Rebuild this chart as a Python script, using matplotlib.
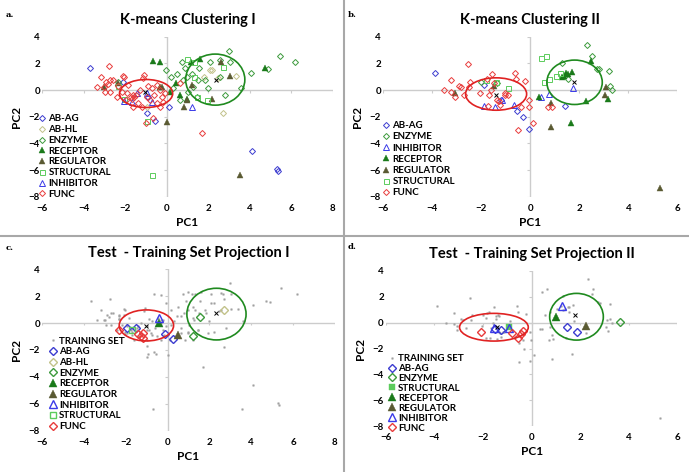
import matplotlib
matplotlib.use("Agg")
import matplotlib.pyplot as plt
from matplotlib.patches import Ellipse
from matplotlib.lines import Line2D

plt.rcParams['font.family'] = ['Lato', 'DejaVu Sans']
plt.rcParams['font.weight'] = 'bold'

# --- panel a: K-means clustering I (x, y)
A_ABAG = [(-3.68, 1.63), (-0.96, -1.7), (-0.56, -2.3), (0.13, -1.25), (4.1, -4.6),
          (5.3, -5.9), (5.35, -6.1), (-2.1, 0.6), (-0.9, -0.5)]
A_ABHL = [(2.08, 1.5), (2.2, 1.5), (1.79, 1.0), (3.36, 1.05), (2.69, -1.75), (2.48, 0.88),
          (-0.96, -1.25)]
A_ENZYME = [(-0.05, 1.5), (0.19, 1.0), (0.48, 1.2), (0.72, 2.13), (0.88, 1.63), (0.96, 0.95),
            (0.8, 0.75), (1.2, 1.2), (1.25, 0.2), (1.57, 1.63), (1.52, 0.75), (2.08, 2.13),
            (2.0, 0.13), (1.84, 0.75), (2.56, 2.25), (2.56, 0.95), (3.04, 2.13), (3.0, 2.95),
            (2.8, -0.38), (3.6, 0.13), (4.08, 1.3), (4.88, 1.55), (5.44, 2.58), (6.2, 2.13),
            (1.44, -0.5), (0.64, -0.75), (-2.32, 0.63), (0.32, 0.13), (1.04, -0.13)]
A_RECEPTOR = [(-0.64, 2.18), (-0.32, 2.1), (0.43, 0.5), (1.18, 2.13), (1.6, 2.3), (4.72, 1.63),
              (0.64, -0.38), (0.16, -0.13), (-0.32, 0.2), (0.96, -0.63)]
A_REGULATOR = [(-3.0, 0.2), (-2.32, 0.5), (0.0, -2.38), (0.85, -1.25), (1.2, 0.38), (2.2, -0.7),
               (2.64, 2.13), (3.04, 1.05), (3.55, -6.38), (-0.24, 0.25), (0.96, -0.75)]
A_STRUCTURAL = [(0.99, 2.3), (1.33, 2.13), (2.69, 1.75), (1.92, -0.75), (-0.93, -2.3),
                (-0.7, -6.38), (-2.32, 0.3), (-2.05, -0.68), (1.33, 1.0), (1.44, -0.55)]
A_INHIBITOR = [(-2.05, -0.8), (-1.68, -0.88), (-0.96, -0.25), (1.2, -1.25), (-0.72, -0.88),
               (-1.41, -0.25)]
A_FUNC = [(-2.77, 1.8), (-3.17, 0.95), (-3.36, 0.2), (-3.04, 0.2), (-2.9, 0.63), (-2.8, 0.45),
          (-2.72, 0.75), (-2.6, 0.75), (-2.96, -0.13), (-2.72, -0.13), (-2.08, 1.05),
          (-2.05, 0.95), (-2.32, 0.3), (-1.84, 0.38), (-1.92, -0.25), (-1.73, -0.5),
          (-1.63, -0.38), (-1.57, -0.55), (-1.68, -0.63), (-1.47, -0.38), (-1.09, 1.12),
          (-1.12, 0.88), (-1.28, 0.0), (-0.88, 0.3), (-0.72, 0.13), (-0.96, -0.5), (-0.8, -0.75),
          (-0.61, -0.38), (-0.48, -1.0), (-0.32, -1.25), (-0.16, -0.88), (-0.08, -0.25),
          (-0.32, 0.0), (-0.45, 0.38), (-1.36, -1.0), (-1.6, -1.25), (-0.64, -2.12), (-1.0, -2.5),
          (1.71, -3.25), (0.64, 0.5), (-0.24, -0.5), (-1.2, -1.25), (-2.4, -0.5), (-2.16, -0.13),
          (-1.95, -0.75)]
A_CENTROIDS = [(-1.02, -0.13), (2.37, 0.75)]

# --- panel b: K-means clustering II
B_ABAG = [(-3.89, 1.3), (-1.89, 0.38), (-1.18, -0.75), (-0.53, -1.55), (-0.3, -2.05),
          (-0.05, -2.95), (1.4, -1.2)]
B_ENZYME = [(2.33, 3.38), (2.53, 2.58), (2.8, 1.55), (3.21, 1.43), (3.24, 0.3), (3.32, 0.0),
            (1.28, 2.05), (1.55, 0.8), (-1.99, 0.63), (-1.35, 0.55), (2.73, 1.6)]
B_INHIBITOR = [(-1.89, -1.2), (-1.44, -1.25), (-0.67, -1.08), (0.44, -0.5), (0.76, -0.3),
               (1.76, 0.13), (-1.14, -0.75)]
B_RECEPTOR = [(2.5, 2.18), (1.71, 1.38), (1.48, 1.25), (1.37, 1.08), (1.31, 0.95),
              (2.26, -0.83), (3.16, -0.68), (1.65, -2.45), (0.35, -0.5), (1.55, 1.2)]
B_REGULATOR = [(-3.05, -0.25), (0.86, -2.8), (0.86, -0.95), (3.07, -0.33), (3.1, 0.2),
               (5.29, -7.33), (-1.48, 0.3)]
B_STRUCTURAL = [(0.45, 2.38), (0.63, 2.58), (0.56, 0.63), (0.76, 0.8), (1.06, 1.05),
                (1.2, 1.3), (-1.82, 0.75), (-1.39, 0.63), (-0.9, 0.13)]
B_FUNC = [(-2.53, 1.93), (-2.46, 0.63), (-3.21, 0.75), (-3.51, 0.0), (-3.21, -0.13),
          (-3.05, -0.55), (-2.91, 0.3), (-2.82, 0.2), (-2.68, -0.38), (-2.48, 0.2),
          (-2.03, -0.25), (-1.69, -0.38), (-1.55, 1.2), (-1.76, 0.8), (-1.48, 0.55),
          (-1.59, 0.0), (-1.35, -0.75), (-1.28, -0.8), (-1.71, -1.2), (-1.25, -1.13),
          (-1.01, -0.2), (-0.91, -0.38), (-0.6, 1.3), (-0.57, 0.8), (-0.22, 0.68),
          (-0.05, -0.75), (-0.03, -1.3), (-0.37, -1.3), (-0.5, -3.0), (0.12, -2.5),
          (0.72, -1.3), (0.9, -1.25), (-1.01, -0.38)]
B_CENTROIDS = [(-1.39, -0.38), (1.78, 0.6)]

# --- panel c: test set projected on clustering I
C_ABAG = [(-1.94, -0.35), (-1.5, -0.35), (-0.11, -0.84), (0.24, -1.21)]
C_ABHL = [(2.72, 0.97)]
C_ENZYME = [(1.53, 0.47), (1.21, -0.97)]
C_RECEPTOR = [(-0.4, -0.03)]
C_REGULATOR = [(0.49, -0.89)]
C_INHIBITOR = [(-0.4, 0.4)]
C_STRUCTURAL = [(-1.7, -0.5)]
C_FUNC = [(-2.34, -0.52), (-1.43, -0.79), (-1.27, -0.97), (-1.15, -1.09), (-1.18, -0.72)]
C_CENTROIDS = [(-1.03, -0.22), (2.31, 0.72)]

# --- panel d: test set projected on clustering II
D_ABAG = [(-1.51, -0.46), (-1.25, -0.59), (1.44, -0.34), (1.88, -0.7)]
D_ENZYME = [(3.64, 0.05)]
D_STRUCTURAL = [(-0.91, -0.31)]
D_RECEPTOR = [(1.02, 0.46)]
D_REGULATOR = [(2.25, -0.26)]
D_INHIBITOR = [(1.26, 1.3), (-0.92, -0.4), (-1.55, -0.4)]
D_FUNC = [(-2.1, -0.72), (-0.82, -0.83), (-0.55, -1.21), (-0.45, -0.9), (-0.36, -0.65)]
D_CENTROIDS = [(-1.42, -0.31), (1.79, 0.62)]

# --- ellipses: (cx, cy, width, height)
ELL_A = [(-0.99, -0.25, 2.56, 2.1), (2.34, 0.79, 2.85, 3.83)]
ELL_B = [(-1.39, -0.29, 2.49, 2.43), (1.81, 0.59, 2.26, 3.33)]
ELL_C = [(-1.01, -0.18, 2.6, 2.3), (2.34, 0.66, 2.83, 3.83)]
ELL_D = [(-1.55, -0.35, 2.83, 2.14), (1.85, 0.46, 2.21, 3.61)]

TRAIN_C = A_ABAG + A_ABHL + A_ENZYME + A_RECEPTOR + A_REGULATOR + A_STRUCTURAL + A_INHIBITOR + A_FUNC
TRAIN_D = B_ABAG + B_ENZYME + B_INHIBITOR + B_RECEPTOR + B_REGULATOR + B_STRUCTURAL + B_FUNC

# --- styles: marker, colour, filled
STYLE = {
    'TRAINING SET': ('s', '#a0a0a0', True),
    'AB-AG': ('D', '#3c3cd0', False),
    'AB-HL': ('D', '#c2c28a', False),
    'ENZYME': ('D', '#3c9a3c', False),
    'RECEPTOR': ('^', '#1a7a1a', True),
    'REGULATOR': ('^', '#5a5a32', True),
    'STRUCTURAL': ('s', '#5ccc5c', False),
    'INHIBITOR': ('^', '#3a3ae8', False),
    'FUNC': ('D', '#e83c3c', False),
}


def scatter(ax, pts, name, size=3.6, mew=0.7, filled=None):
    m, c, f = STYLE[name]
    if filled is not None:
        f = filled
    xs = [p[0] for p in pts]
    ys = [p[1] for p in pts]
    ms = size + 0.6 if m == '^' else size
    if m == 'D':
        ms = size * 0.85
    if name == 'TRAINING SET':
        ms = 1.1
    ax.plot(xs, ys, linestyle='none', marker=m, markersize=ms,
            markerfacecolor=c if f else 'none', markeredgecolor=c,
            markeredgewidth=mew if not f else 0.3, label=name)


def setup(ax, title, xmax, ells, cents):
    ax.set_xlim(-6, xmax)
    ax.set_ylim(-8, 4)
    xt = list(range(-6, xmax + 1, 2))
    yt = list(range(-8, 5, 2))
    ax.set_xticks(xt)
    ax.set_yticks(yt)
    ax.tick_params(length=0, labelsize=7)
    ax.tick_params(axis='x', pad=5)
    ax.tick_params(axis='y', pad=1.5)
    for lab in ax.get_xticklabels() + ax.get_yticklabels():
        lab.set_fontweight('bold')
    for s in ax.spines.values():
        s.set_visible(False)
    ax.axhline(0, color='#cccccc', lw=1.0, zorder=0)
    ax.axvline(0, color='#cccccc', lw=1.0, zorder=0)
    ax.vlines(xt, -0.18, 0, color='#cccccc', lw=0.8, zorder=0)
    ax.hlines(yt, -0.12, 0, color='#cccccc', lw=0.8, zorder=0)
    ax.set_xlabel('PC1', fontsize=8.5, fontweight='bold', labelpad=3)
    ax.set_ylabel('PC2', fontsize=8.5, fontweight='bold', labelpad=5)
    ax.set_title(title, fontsize=10.5, fontweight='bold', pad=9)
    for (cx, cy, w, h), col in zip(ells, ['#e02222', '#1f8a1f']):
        ax.add_patch(Ellipse((cx, cy), w, h, fill=False, edgecolor=col, lw=1.2, zorder=5))
    ax.plot([p[0] for p in cents], [p[1] for p in cents], linestyle='none', marker='x',
            markersize=2.5, color='black', mew=0.7, zorder=6)


def legend(ax, x0, y0, spacing):
    leg = ax.legend(loc='lower left', bbox_to_anchor=(x0, y0), frameon=False,
                    fontsize=7, handlelength=0.8, handletextpad=0.25,
                    labelspacing=spacing, borderpad=0, borderaxespad=0)
    for t in leg.get_texts():
        t.set_fontweight('bold')


fig = plt.figure(figsize=(6.89, 4.72), dpi=100)

ax_a = fig.add_axes([0.061, 0.583, 0.422, 0.339])
ax_b = fig.add_axes([0.556, 0.583, 0.427, 0.339])
ax_c = fig.add_axes([0.061, 0.087, 0.425, 0.343])
ax_d = fig.add_axes([0.560, 0.097, 0.423, 0.329])

# a
for pts, name in [(A_ABAG, 'AB-AG'), (A_ABHL, 'AB-HL'), (A_ENZYME, 'ENZYME'),
                  (A_RECEPTOR, 'RECEPTOR'), (A_REGULATOR, 'REGULATOR'),
                  (A_STRUCTURAL, 'STRUCTURAL'), (A_INHIBITOR, 'INHIBITOR'), (A_FUNC, 'FUNC')]:
    scatter(ax_a, pts, name)
setup(ax_a, 'K-means Clustering I', 8, ELL_A, A_CENTROIDS)
legend(ax_a, -0.013, -0.012, 0.18)

# b
for pts, name in [(B_ABAG, 'AB-AG'), (B_ENZYME, 'ENZYME'), (B_INHIBITOR, 'INHIBITOR'),
                  (B_RECEPTOR, 'RECEPTOR'), (B_REGULATOR, 'REGULATOR'),
                  (B_STRUCTURAL, 'STRUCTURAL'), (B_FUNC, 'FUNC')]:
    scatter(ax_b, pts, name)
setup(ax_b, 'K-means Clustering II', 6, ELL_B, B_CENTROIDS)
legend(ax_b, -0.003, -0.004, 0.23)

# c
scatter(ax_c, TRAIN_C, 'TRAINING SET')
for pts, name in [(C_ABAG, 'AB-AG'), (C_ABHL, 'AB-HL'), (C_ENZYME, 'ENZYME'),
                  (C_RECEPTOR, 'RECEPTOR'), (C_REGULATOR, 'REGULATOR'),
                  (C_INHIBITOR, 'INHIBITOR'), (C_STRUCTURAL, 'STRUCTURAL'), (C_FUNC, 'FUNC')]:
    scatter(ax_c, pts, name, size=4.6, mew=1.0)
setup(ax_c, 'Test  - Training Set Projection I', 8, ELL_C, C_CENTROIDS)
legend(ax_c, 0.024, 0.0, 0.17)

# d
scatter(ax_d, TRAIN_D, 'TRAINING SET')
for pts, name in [(D_ABAG, 'AB-AG'), (D_ENZYME, 'ENZYME')]:
    scatter(ax_d, pts, name, size=4.6, mew=1.0)
scatter(ax_d, D_STRUCTURAL, 'STRUCTURAL', size=4.0, filled=True)
for pts, name in [(D_RECEPTOR, 'RECEPTOR'), (D_REGULATOR, 'REGULATOR'),
                  (D_INHIBITOR, 'INHIBITOR'), (D_FUNC, 'FUNC')]:
    scatter(ax_d, pts, name, size=4.6, mew=1.0)
setup(ax_d, 'Test  - Training Set Projection II', 6, ELL_D, D_CENTROIDS)
legend(ax_d, 0.007, -0.042, 0.10)

# panel letters and dividers
for x, y, s in [(0.008, 0.965, 'a.'), (0.505, 0.965, 'b.'), (0.008, 0.47, 'c.'), (0.505, 0.472, 'd.')]:
    fig.text(x, y, s, fontsize=6, fontweight='bold', family='DejaVu Serif')
fig.add_artist(Line2D([0.4995, 0.4995], [0, 1], color='#a8a8a8', lw=1.5))
fig.add_artist(Line2D([0, 1], [0.5, 0.5], color='#a8a8a8', lw=1.5))

fig.savefig('out.png', dpi=100)
